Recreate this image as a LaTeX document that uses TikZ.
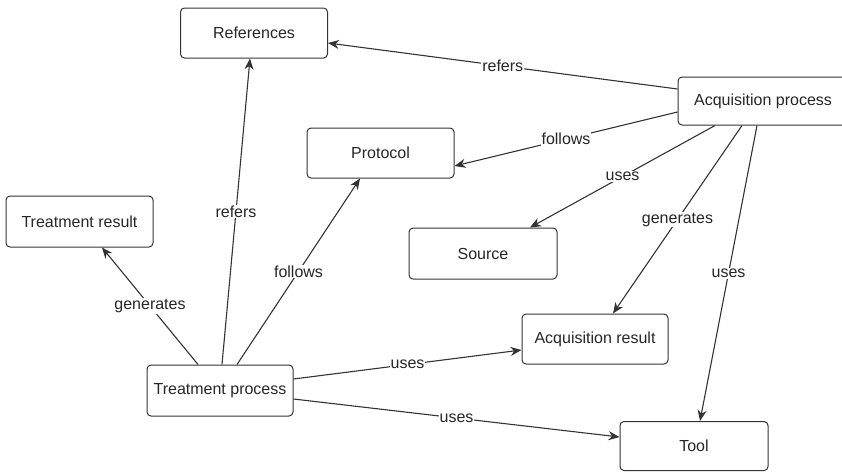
\documentclass[tikz,border=0pt]{standalone}
\usepackage{fontspec}
\setmainfont{Liberation Sans}
\usetikzlibrary{arrows.meta}
\begin{document}
\begin{tikzpicture}[x=1pt,y=-1pt,
  box/.style={draw=black!80,line width=1pt,rounded corners=4pt,minimum width=147pt,minimum height=50pt,font=\fontsize{16}{19}\selectfont,text=black!85},
  rel/.style={draw=black!80,line width=1.1pt,-{Stealth[length=11pt,width=9pt]}},
  lbl/.style={fill=white,inner sep=1pt,font=\fontsize{16}{19}\selectfont,text=black!85}]
\useasboundingbox (0,0) rectangle (842,472);
\node[box] (refs) at (254,33) {References};
\node[box,minimum width=170pt,minimum height=48pt] (acqproc) at (763,101) {Acquisition process};
\node[box] (protocol) at (380.5,153) {Protocol};
\node[box,minimum height=51pt] (treatres) at (79.5,221.5) {Treatment result};
\node[box,minimum width=148pt,minimum height=51pt] (source) at (483,253.5) {Source};
\node[box,minimum width=146pt] (acqres) at (595,339) {Acquisition result};
\node[box,minimum width=146pt,minimum height=51pt] (treatproc) at (220,390.5) {Treatment process};
\node[box,minimum width=148pt,minimum height=49pt] (tool) at (694,446) {Tool};
\draw[rel] ([yshift=12pt]acqproc.west) -- node[lbl] {refers} ([yshift=-10pt]refs.east);
\draw[rel] ([yshift=-11pt]acqproc.west) -- node[lbl] {follows} ([yshift=-13pt]protocol.east);
\draw[rel] ([xshift=-48pt]acqproc.south) -- node[lbl] {uses} ([xshift=47pt]source.north);
\draw[rel] ([xshift=-21pt]acqproc.south) -- node[lbl] {generates} ([xshift=18pt]acqres.north);
\draw[rel] ([xshift=-6pt]acqproc.south) -- node[lbl] {uses} ([xshift=6pt]tool.north);
\draw[rel] ([xshift=-22pt]treatproc.north) -- node[lbl] {generates} ([xshift=22.5pt]treatres.south);
\draw[rel] ([xshift=2pt]treatproc.north) -- node[lbl] {refers} ([xshift=-4pt]refs.south);
\draw[rel] ([xshift=17pt]treatproc.north) -- node[lbl] {follows} ([xshift=-20.5pt]protocol.south);
\draw[rel] ([yshift=11.5pt]treatproc.east) -- node[lbl] {uses} ([yshift=-11pt]acqres.west);
\draw[rel] ([yshift=-8.5pt]treatproc.east) -- node[lbl] {uses} ([yshift=9pt]tool.west);
\end{tikzpicture}
\end{document}
